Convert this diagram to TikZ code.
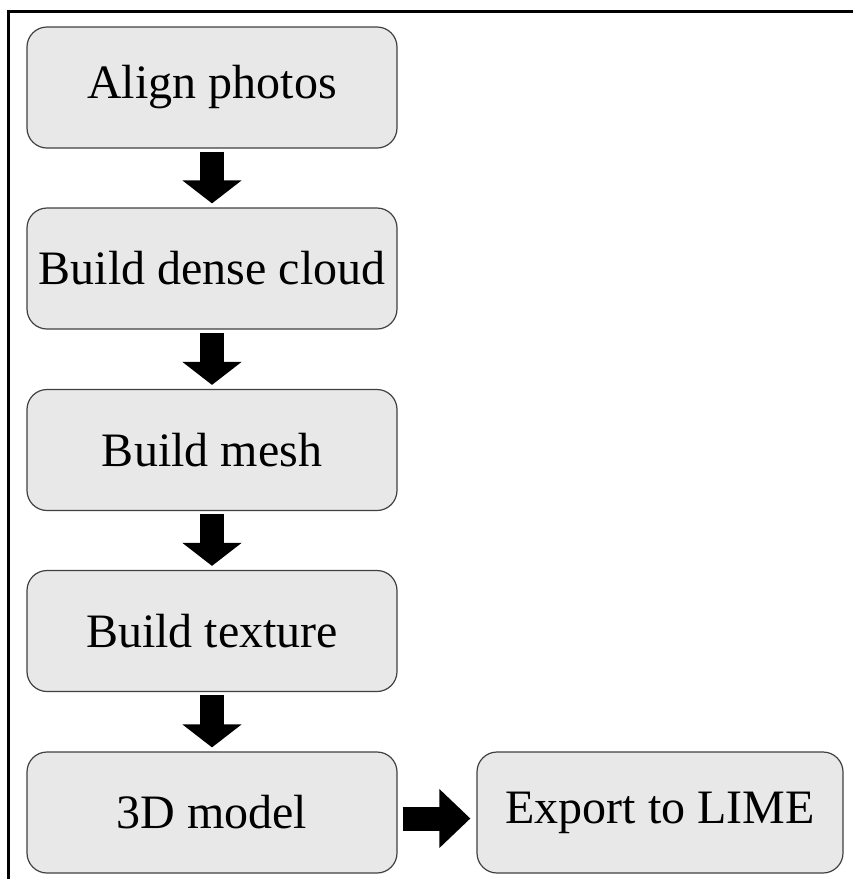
\documentclass[tikz,border=0pt]{standalone}
\usepackage{fontspec}
\setmainfont{Liberation Serif}
\usetikzlibrary{arrows.meta}

\begin{document}
\begin{tikzpicture}[x=1pt, y=-1pt,
  stepbox/.style={draw=black!75, line width=1.2pt, fill=black!9,
    rounded corners=20pt, minimum width=370pt, minimum height=121pt,
    inner sep=0pt, font=\fontsize{48}{58}\selectfont},
  downarrow/.style={line width=24pt, line cap=butt,
    -{Triangle[width=58pt, length=23pt]}, shorten <=3pt, shorten >=4pt},
  rightarrow/.style={line width=24pt, line cap=butt,
    -{Triangle[width=57pt, length=31pt]}, shorten <=5pt, shorten >=6pt}]

  \useasboundingbox (0,0) rectangle (853,879);

  % frame along the top and left edges
  \draw[line width=3pt] (8,879) -- (8,11) -- (853,11);

  % processing steps
  \node[stepbox] (align)   at (212, 87.5)  {Align photos};
  \node[stepbox] (dense)   at (212, 268.5) {Build dense cloud};
  \node[stepbox] (mesh)    at (212, 450)   {Build mesh};
  \node[stepbox] (texture) at (212, 631)   {Build texture};
  \node[stepbox] (model)   at (212, 812.5) {3D model};
  \node[stepbox, minimum width=366pt] (export) at (660, 812.5) {Export to LIME};

  % flow between steps
  \draw[downarrow] (align.south)   -- (dense.north);
  \draw[downarrow] (dense.south)   -- (mesh.north);
  \draw[downarrow] (mesh.south)    -- (texture.north);
  \draw[downarrow] (texture.south) -- (model.north);
  \draw[rightarrow] ([yshift=-6pt]model.east) -- ([yshift=-6pt]export.west);
\end{tikzpicture}
\end{document}
